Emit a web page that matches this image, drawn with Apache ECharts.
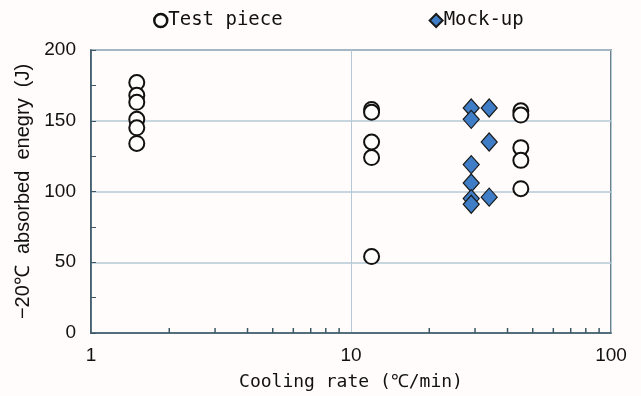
<!DOCTYPE html>
<html>
<head>
<meta charset="utf-8">
<script src="https://cdn.jsdelivr.net/npm/echarts@6/dist/echarts.min.js"></script>
</head>
<body style="margin:0;background:#fffcfb">
<div id="main" style="width:641px;height:396px"></div>
<script>
// Test piece (open circles): [cooling rate, energy]
var testPiece = [
  [1.5, 177], [1.5, 168], [1.5, 163], [1.5, 151], [1.5, 145], [1.5, 134],
  [12, 158], [12, 156], [12, 135], [12, 124], [12, 54],
  [45, 157], [45, 154], [45, 131], [45, 122], [45, 102]
];
// Mock-up (blue diamonds)
var mockUp = [
  [29, 159], [29, 151], [29, 119], [29, 106], [29, 95], [29, 91],
  [34, 159], [34, 135], [34, 96]
];
// minor x ticks on the log axis
var minorX = [2, 3, 4, 5, 6, 7, 8, 9, 20, 30, 40, 50, 60, 70, 80, 90];

var mono = '"DejaVu Sans Mono", "Liberation Mono", monospace';
var sans = '"Liberation Sans", Arial, sans-serif';
var axisColor = '#3b5766';
var gridColor = '#b4c8d6';

var chart = echarts.init(document.getElementById('main'));
chart.setOption({
  backgroundColor: '#fffcfb',
  animation: false,
  legend: {
    top: 6,
    left: 148,
    itemGap: 146,
    itemWidth: 13,
    itemHeight: 13,
    textStyle: { fontSize: 19, color: '#111', fontFamily: mono, padding: [0, 0, 0, -4] },
    data: [
      { name: 'Test piece', itemStyle: { borderWidth: 2.5 } },
      { name: 'Mock-up' }
    ]
  },
  grid: {
    left: 91, right: 30, top: 50, bottom: 63,
    show: true, borderColor: axisColor, borderWidth: 1.5, backgroundColor: 'transparent'
  },
  xAxis: {
    type: 'log', logBase: 10, min: 1, max: 100,
    name: 'Cooling rate (℃/min)', nameLocation: 'middle', nameGap: 40,
    nameTextStyle: { fontSize: 18, color: '#111', fontFamily: mono },
    axisLine: { lineStyle: { color: axisColor, width: 1.5 } },
    axisTick: { show: false },
    axisLabel: { fontSize: 19, color: '#111', margin: 13, fontFamily: sans },
    splitLine: { show: true, lineStyle: { color: gridColor, width: 1 } }
  },
  yAxis: {
    type: 'value', min: 0, max: 200, interval: 50,
    name: '−20℃  absorbed  enegry  (J)', nameLocation: 'middle', nameGap: 58,
    nameTextStyle: { fontSize: 20, color: '#111', fontFamily: sans },
    axisLine: { show: true, lineStyle: { color: axisColor, width: 1.5 } },
    axisTick: { show: true, inside: true, length: 5, lineStyle: { color: axisColor } },
    minorTick: { show: true, splitNumber: 2, length: 5, lineStyle: { color: axisColor } },
    axisLabel: { fontSize: 19, color: '#111', margin: 15, fontFamily: sans },
    splitLine: { show: true, lineStyle: { color: gridColor, width: 1.5 } }
  },
  series: [
    {
      type: 'custom',
      silent: true,
      data: minorX,
      renderItem: function (params, api) {
        var p = api.coord([api.value(0), 0]);
        return {
          type: 'line',
          shape: { x1: p[0], y1: p[1], x2: p[0], y2: p[1] - 5 },
          style: { stroke: axisColor, lineWidth: 1.5 }
        };
      },
      encode: { x: 0 }
    },
    {
      name: 'Test piece',
      type: 'scatter',
      symbol: 'circle',
      symbolSize: 15,
      data: testPiece,
      itemStyle: { color: '#fffefd', borderColor: '#111', borderWidth: 2, opacity: 1 }
    },
    {
      name: 'Mock-up',
      type: 'scatter',
      symbol: 'diamond',
      symbolSize: [16, 18],
      data: mockUp,
      itemStyle: { color: '#3f7ec6', borderColor: '#1a1a1a', borderWidth: 1.2, opacity: 1 }
    }
  ]
});
</script>
</body>
</html>
